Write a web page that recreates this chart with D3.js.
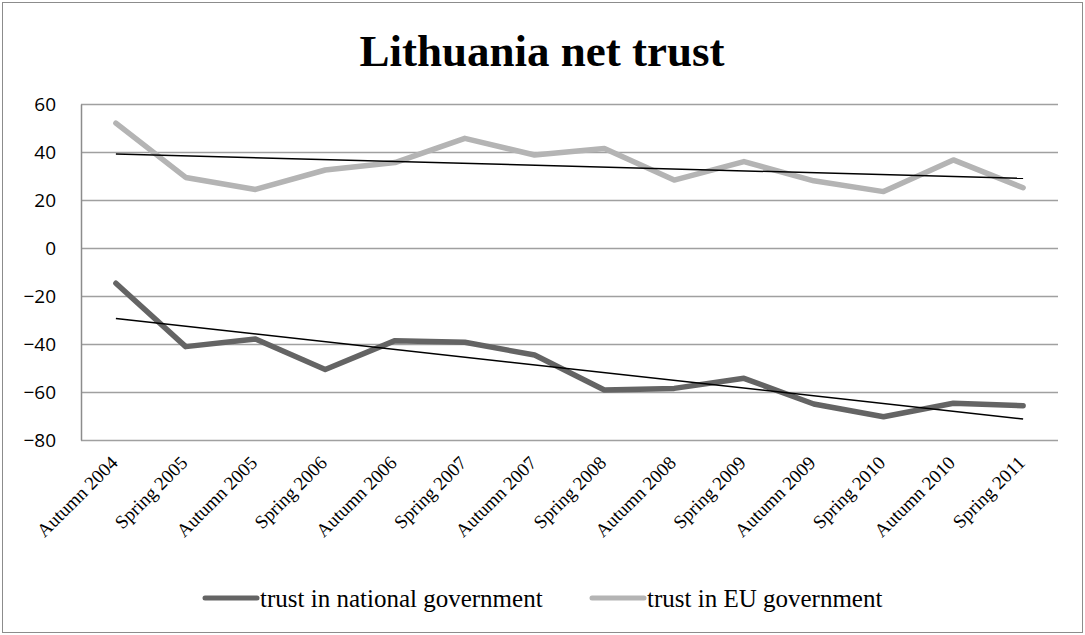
<!DOCTYPE html>
<html>
<head>
<meta charset="utf-8">
<script src="https://cdn.jsdelivr.net/npm/d3@7"></script>
<style>
  html, body { margin: 0; padding: 0; background: #fff; }
  svg { display: block; }
</style>
</head>
<body>
<svg id="chart" width="1085" height="635"></svg>
<script>
// Survey waves (x axis)
const waves = [
  "Autumn 2004", "Spring 2005", "Autumn 2005", "Spring 2006", "Autumn 2006",
  "Spring 2007", "Autumn 2007", "Spring 2008", "Autumn 2008", "Spring 2009",
  "Autumn 2009", "Spring 2010", "Autumn 2010", "Spring 2011"
];

// Net trust (% trusting minus % not trusting)
const nationalTrust = [-14.7, -41.1, -37.9, -50.6, -38.6, -39.3, -44.6, -59.2, -58.5, -54.3, -65.0, -70.3, -64.7, -65.7];
const euTrust = [52.0, 29.4, 24.4, 32.5, 35.6, 45.7, 38.75, 41.5, 28.3, 36.0, 28.0, 23.5, 36.7, 25.1];

const yTicks = [-80, -60, -40, -20, 0, 20, 40, 60];

const seriesNames = ["trust in national government", "trust in EU government"];
const chartTitle = "Lithuania net trust";

const svg = d3.select("#chart");
const W = 1085, H = 635;

// outer chart frame
svg.append("rect")
  .attr("x", 2.5).attr("y", 2.5)
  .attr("width", W - 5).attr("height", H - 5)
  .attr("fill", "#fff").attr("stroke", "#8c8c8c").attr("stroke-width", 1);

const plot = { left: 81, right: 1058, top: 104, bottom: 440 };

const x = d3.scaleBand().domain(waves).range([plot.left, plot.right]).padding(0);
const y = d3.scaleLinear().domain([-80, 60]).range([plot.bottom, plot.top]);
const cx = d => x(d) + x.bandwidth() / 2;

// title
svg.append("text")
  .attr("x", 542).attr("y", 66)
  .attr("text-anchor", "middle")
  .attr("font-family", "'Liberation Serif', 'Times New Roman', serif")
  .attr("font-weight", "bold")
  .attr("font-size", 45)
  .attr("fill", "#000")
  .text(chartTitle);

// horizontal gridlines
svg.append("g")
  .selectAll("line")
  .data(yTicks)
  .join("line")
  .attr("x1", plot.left).attr("x2", plot.right)
  .attr("y1", d => Math.round(y(d)) + 0.5).attr("y2", d => Math.round(y(d)) + 0.5)
  .attr("stroke", "#a0a0a0").attr("stroke-width", 1.5);

// value axis
const yAxis = d3.axisLeft(y).tickValues(yTicks).tickSize(0).tickPadding(25).tickFormat(d3.format("d"));
const gy = svg.append("g").attr("transform", `translate(${plot.left},0)`).call(yAxis);
gy.select(".domain").attr("stroke", "#8c8c8c").attr("stroke-width", 1.5);
gy.selectAll("text")
  .attr("font-family", "'Open Sans', 'Liberation Sans', sans-serif")
  .attr("font-size", 19)
  .attr("fill", "#000");

// category labels, rotated
svg.append("g")
  .selectAll("text")
  .data(waves)
  .join("text")
  .attr("transform", d => `translate(${cx(d) + 3},${464}) rotate(-45)`)
  .attr("text-anchor", "end")
  .attr("font-family", "'Liberation Serif', 'Times New Roman', serif")
  .attr("font-size", 19)
  .attr("fill", "#000")
  .text(d => d);

// series lines
const line = d3.line().x((d, i) => cx(waves[i])).y(d => y(d));

const series = [
  { name: seriesNames[0], values: nationalTrust, color: "#646464" },
  { name: seriesNames[1], values: euTrust, color: "#b4b4b4" }
];

series.forEach(s => {
  svg.append("path")
    .datum(s.values)
    .attr("d", line)
    .attr("fill", "none")
    .attr("stroke", s.color)
    .attr("stroke-width", 5.5)
    .attr("stroke-linejoin", "round")
    .attr("stroke-linecap", "round");
});

// least-squares linear trendlines
function linearFit(values) {
  const n = values.length;
  const xs = d3.range(n);
  const mx = d3.mean(xs), my = d3.mean(values);
  let num = 0, den = 0;
  xs.forEach((xi, i) => { num += (xi - mx) * (values[i] - my); den += (xi - mx) ** 2; });
  const slope = num / den;
  const intercept = my - slope * mx;
  return xs.map(xi => intercept + slope * xi);
}

series.forEach(s => {
  const fit = linearFit(s.values);
  svg.append("path")
    .datum([fit[0], fit[fit.length - 1]])
    .attr("d", d3.line().x((d, i) => cx(waves[i === 0 ? 0 : waves.length - 1])).y(d => y(d)))
    .attr("fill", "none")
    .attr("stroke", "#000")
    .attr("stroke-width", 1.5);
});

// legend
const legendItems = [
  { name: seriesNames[0], color: "#646464", x: 205 },
  { name: seriesNames[1], color: "#b4b4b4", x: 592 }
];
const lg = svg.append("g");
legendItems.forEach(it => {
  lg.append("line")
    .attr("x1", it.x).attr("x2", it.x + 52)
    .attr("y1", 598).attr("y2", 598)
    .attr("stroke", it.color).attr("stroke-width", 5)
    .attr("stroke-linecap", "round");
  lg.append("text")
    .attr("x", it.x + 55).attr("y", 607)
    .attr("font-family", "'Liberation Serif', 'Times New Roman', serif")
    .attr("font-size", 25)
    .attr("fill", "#000")
    .text(it.name);
});
</script>
</body>
</html>
